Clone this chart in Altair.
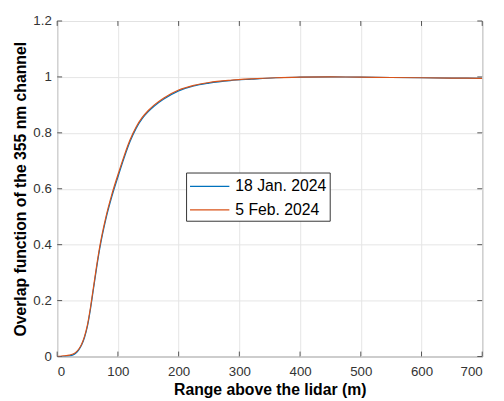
import altair as alt
import pandas as pd

# Range above the lidar (m)
range_m = [0, 5, 10, 15, 20, 25, 30, 35, 40, 45, 50, 55, 60, 65, 70, 80, 90, 100,
           110, 120, 130, 140, 150, 160, 175, 200, 225, 250, 285, 320, 360, 400,
           450, 500, 550, 600, 650, 700]
# Overlap function, 18 Jan. 2024
ov_jan = [0.0, 0.0, 0.0, 0.001, 0.002, 0.005, 0.011, 0.022, 0.040, 0.068, 0.110, 0.172,
          0.245, 0.318, 0.385, 0.490, 0.572, 0.642, 0.709, 0.769, 0.816, 0.851, 0.876,
          0.896, 0.920, 0.950, 0.968, 0.978, 0.987, 0.992, 0.997, 0.999,
          1.0, 0.999, 0.998, 0.997, 0.996, 0.995]
# Overlap function, 5 Feb. 2024
ov_feb = [0.0, 0.001, 0.002, 0.003, 0.005, 0.008, 0.014, 0.025, 0.043, 0.072, 0.115, 0.178,
          0.252, 0.325, 0.392, 0.497, 0.580, 0.650, 0.716, 0.775, 0.821, 0.855, 0.880,
          0.900, 0.924, 0.953, 0.970, 0.980, 0.988, 0.993, 0.997, 0.999,
          1.0, 0.999, 0.998, 0.997, 0.996, 0.995]
series_names = ["18 Jan. 2024", "5 Feb. 2024"]
series_colors = ["#0072BD", "#D95319"]

x_ticks = [0, 100, 200, 300, 400, 500, 600, 700]
y_ticks = [0, 0.2, 0.4, 0.6, 0.8, 1.0, 1.2]

rows = []
for name, vals in zip(series_names, [ov_jan, ov_feb]):
    for r, v in zip(range_m, vals):
        rows.append({"range": r, "overlap": v, "series": name})
df = pd.DataFrame(rows)

W, H = 432, 341
FONT = "Liberation Sans"

xscale = alt.Scale(domain=[0, 700], nice=False)
yscale = alt.Scale(domain=[0, 1.2], nice=False)

lines = alt.Chart(df).mark_line(strokeWidth=1.2, clip=True, interpolate="monotone").encode(
    x=alt.X("range:Q", scale=xscale,
            axis=alt.Axis(values=x_ticks, title="Range above the lidar (m)",
                          labelPadding=8, titlePadding=4)),
    y=alt.Y("overlap:Q", scale=yscale,
            axis=alt.Axis(values=y_ticks, title="Overlap function of the 355 nm channel",
                          labelPadding=6, titlePadding=4,
                          labelExpr="datum.value == 0 ? '0' : datum.value == 1 ? '1' : format(datum.value, '.1f')")),
    color=alt.Color("series:N", sort=series_names,
                    scale=alt.Scale(domain=series_names, range=series_colors),
                    legend=alt.Legend(title=None, orient="none", legendX=131, legendY=154,
                                      symbolType="M-1,0H3", symbolSize=400,
                                      symbolStrokeWidth=1.2, labelFontSize=16,
                                      labelFont=FONT, labelColor="#000000",
                                      strokeColor="#333333", fillColor="#ffffff",
                                      padding=3, rowPadding=5, labelOffset=25,
                                      labelLimit=200)),
)

xt = pd.DataFrame({"t": x_ticks})
yt = pd.DataFrame({"t": y_ticks})
tick_color = "#555555"
xb = alt.Chart(xt).mark_rule(color=tick_color, strokeWidth=1).encode(
    x=alt.X("t:Q", scale=xscale), y=alt.value(H), y2=alt.value(H - 5))
xtop = alt.Chart(xt).mark_rule(color=tick_color, strokeWidth=1).encode(
    x=alt.X("t:Q", scale=xscale), y=alt.value(0), y2=alt.value(5))
yl = alt.Chart(yt).mark_rule(color=tick_color, strokeWidth=1).encode(
    y=alt.Y("t:Q", scale=yscale), x=alt.value(0), x2=alt.value(5))
yr = alt.Chart(yt).mark_rule(color=tick_color, strokeWidth=1).encode(
    y=alt.Y("t:Q", scale=yscale), x=alt.value(W), x2=alt.value(W - 5))

chart = alt.layer(xb, xtop, yl, yr, lines).properties(
    width=W, height=H,
    background="#ffffff",
    autosize=alt.AutoSizeParams(type="none"),
    padding={"left": 50, "top": 10, "right": 14, "bottom": 42},
).configure_view(
    stroke="#6b6b6b", strokeWidth=1
).configure_axis(
    domain=False, ticks=False, grid=True, gridColor="#e4e4e4", gridWidth=1,
    labelFont=FONT, labelFontSize=13.5, labelColor="#333333",
    titleFont=FONT, titleFontSize=16, titleFontWeight="bold", titleColor="#000000",
)

chart.save("out.html", embed_options={"renderer": "svg", "actions": False})
